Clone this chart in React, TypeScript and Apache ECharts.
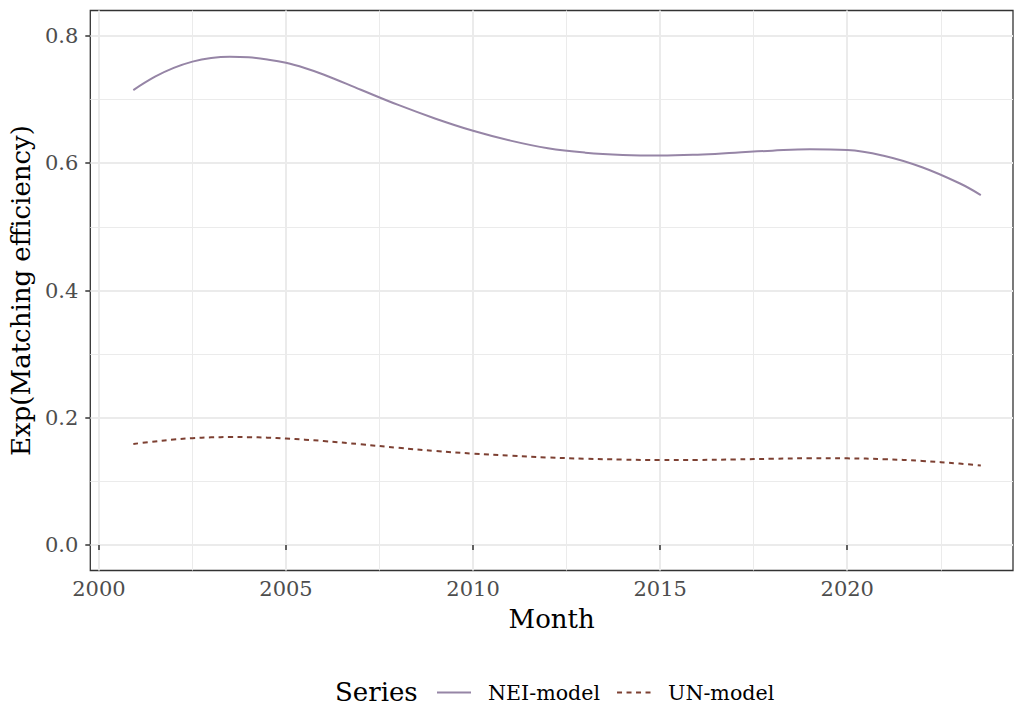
import React, { useEffect, useRef } from "react";
import * as echarts from "echarts";

const years = [2000.92, 2001.5, 2002, 2002.5, 2003, 2003.5, 2004, 2004.5, 2005, 2005.5, 2006, 2007, 2008, 2009, 2010, 2011, 2012, 2013, 2014, 2015, 2016, 2017, 2018, 2019, 2020, 2021, 2022, 2023, 2023.57];
const neiModel = [0.715, 0.736, 0.7498, 0.7597, 0.7655, 0.7675, 0.7665, 0.763, 0.7578, 0.7497, 0.7395, 0.7155, 0.6916, 0.670, 0.651, 0.6355, 0.6235, 0.6166, 0.613, 0.612, 0.6135, 0.6166, 0.6198, 0.622, 0.6209, 0.6114, 0.5937, 0.5685, 0.550];
const unModel = [0.1589, 0.1628, 0.1658, 0.1680, 0.1692, 0.1697, 0.1695, 0.1688, 0.1673, 0.1656, 0.1635, 0.1583, 0.1528, 0.1478, 0.1437, 0.1404, 0.1376, 0.1357, 0.1343, 0.1335, 0.1337, 0.1346, 0.1356, 0.1363, 0.1362, 0.1349, 0.1322, 0.128, 0.1249];

const xMajorTicks = [2000, 2005, 2010, 2015, 2020];
const xMinorTicks = [2002.5, 2007.5, 2012.5, 2017.5, 2022.5];
const yMajorTicks = [0, 0.2, 0.4, 0.6, 0.8];
const yMinorTicks = [0.1, 0.3, 0.5, 0.7];

const FONT = "DejaVu Serif";

export default function App() {
  const ref = useRef<HTMLDivElement>(null);
  useEffect(() => {
    if (!ref.current) return;
    const chart = echarts.init(ref.current, undefined, { renderer: "svg" });
    const xMin = 1999.77, xMax = 2024.43, yMin = -0.04, yMax = 0.84;
    chart.setOption({
      animation: false,
      backgroundColor: "#ffffff",
      textStyle: { fontFamily: FONT },
      title: {
        text: "Series",
        left: 335,
        top: 679,
        padding: 0,
        textStyle: { fontFamily: FONT, fontSize: 26, fontWeight: "normal", color: "#000000" },
      },
      legend: {
        left: 436,
        top: 682,
        padding: 0,
        itemWidth: 34,
        itemHeight: 14,
        itemGap: 16,
        data: ["NEI-model", "UN-model"],
        itemStyle: { opacity: 0 },
        textStyle: { fontFamily: FONT, fontSize: 20.6, color: "#000000", padding: [0, 0, 0, 12] },
      },
      grid: {
        left: 88,
        top: 10.5,
        width: 925,
        height: 560,
        show: true,
        borderColor: "#333333",
        borderWidth: 1.3,
        backgroundColor: "transparent",
      },
      xAxis: [
        {
          type: "value",
          min: xMin,
          max: xMax,
          position: "bottom",
          name: "Month",
          nameLocation: "middle",
          nameGap: 35,
          nameTextStyle: { fontFamily: FONT, fontSize: 26, color: "#000000" },
          axisLine: { show: false },
          axisTick: { show: true, length: 5, customValues: xMajorTicks, lineStyle: { color: "#333333", width: 1.5 } },
          axisLabel: { customValues: xMajorTicks, margin: 8, fontFamily: FONT, fontSize: 21, color: "#4d4d4d", formatter: (v: number) => String(Math.round(v)) },
          splitLine: { show: true, lineStyle: { color: "#ebebeb", width: 2 } },
        },
        {
          type: "value",
          min: xMin,
          max: xMax,
          position: "bottom",
          axisLine: { show: false },
          axisTick: { show: false, customValues: xMinorTicks },
          axisLabel: { show: false, customValues: xMinorTicks },
          splitLine: { show: true, lineStyle: { color: "#ebebeb", width: 1 } },
        },
      ],
      yAxis: [
        {
          type: "value",
          min: yMin,
          max: yMax,
          position: "left",
          name: "Exp(Matching efficiency)",
          nameLocation: "middle",
          nameGap: 54,
          nameTextStyle: { fontFamily: FONT, fontSize: 26, color: "#000000" },
          axisLine: { show: false },
          axisTick: { show: true, length: 5, customValues: yMajorTicks, lineStyle: { color: "#333333", width: 1.5 } },
          axisLabel: { customValues: yMajorTicks, margin: 12, fontFamily: FONT, fontSize: 21, color: "#4d4d4d", formatter: (v: number) => v.toFixed(1) },
          splitLine: { show: true, lineStyle: { color: "#ebebeb", width: 2 } },
        },
        {
          type: "value",
          min: yMin,
          max: yMax,
          position: "left",
          axisLine: { show: false },
          axisTick: { show: false, customValues: yMinorTicks },
          axisLabel: { show: false, customValues: yMinorTicks },
          splitLine: { show: true, lineStyle: { color: "#ebebeb", width: 1 } },
        },
      ],
      series: [
        {
          name: "NEI-model",
          type: "line",
          xAxisIndex: 0,
          yAxisIndex: 0,
          smooth: 0.4,
          symbol: "none",
          lineStyle: { color: "#9685a6", width: 2, type: "solid" },
          itemStyle: { color: "#9685a6" },
          data: years.map((x, i) => [x, neiModel[i]]),
        },
        {
          name: "UN-model",
          type: "line",
          xAxisIndex: 0,
          yAxisIndex: 0,
          smooth: 0.4,
          symbol: "none",
          lineStyle: { color: "#7d4032", width: 2, type: [5, 4.5] },
          itemStyle: { color: "#7d4032" },
          data: years.map((x, i) => [x, unModel[i]]),
        },
      ],
    });
    return () => chart.dispose();
  }, []);
  return <div ref={ref} style={{ position: "fixed", left: 0, top: 0, width: 1014, height: 706 }} />;
}
